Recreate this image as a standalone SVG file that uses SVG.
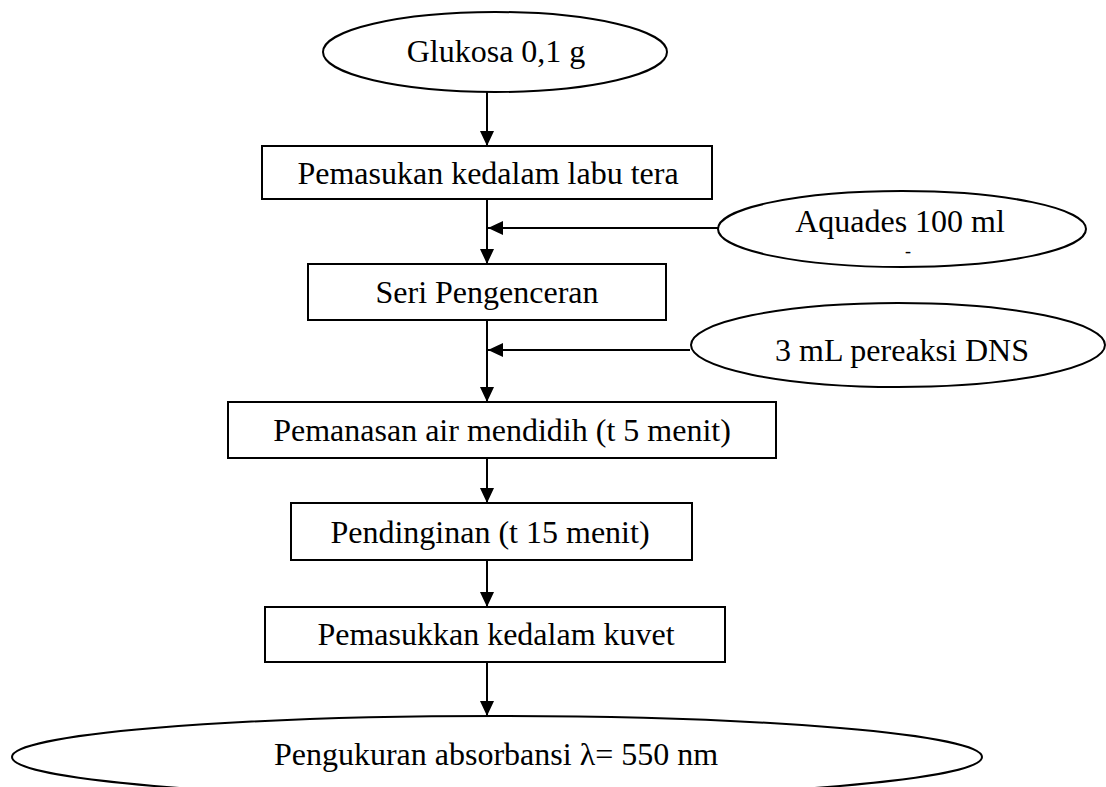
<svg xmlns="http://www.w3.org/2000/svg" width="1106" height="787" viewBox="0 0 1106 787">
  <defs>
    <marker id="arrow" viewBox="0 0 15 14" refX="15" refY="7" markerWidth="15" markerHeight="14" markerUnits="userSpaceOnUse" orient="auto">
      <path d="M0,0 L15,7 L0,14 Z" fill="#000"/>
    </marker>
    <style>
      .shape { fill: #fff; stroke: #000; stroke-width: 2; }
      .label { font-family: "Liberation Serif", "Times New Roman", serif; font-size: 32px; fill: #000; text-anchor: middle; }
      .link { fill: none; stroke: #000; stroke-width: 2; marker-end: url(#arrow); }
    </style>
  </defs>
  <rect width="1106" height="787" fill="#fff"/>

  <!-- flow connectors -->
  <g id="connectors">
    <line class="link" x1="487" y1="92" x2="487" y2="146"/>
    <line class="link" x1="487" y1="199" x2="487" y2="264"/>
    <line class="link" x1="718" y1="228" x2="488" y2="228"/>
    <line class="link" x1="487" y1="320" x2="487" y2="402"/>
    <line class="link" x1="690" y1="350" x2="488" y2="350"/>
    <line class="link" x1="487" y1="458" x2="487" y2="503"/>
    <line class="link" x1="487" y1="560" x2="487" y2="607"/>
    <line class="link" x1="487" y1="662" x2="487" y2="716"/>
  </g>

  <g id="glukosa">
    <ellipse class="shape" cx="495" cy="52" rx="172" ry="40"/>
    <text class="label" x="496" y="62">Glukosa 0,1 g</text>
  </g>

  <g id="pemasukan-labu">
    <rect class="shape" x="262" y="146" width="450" height="53"/>
    <text class="label" x="488" y="184">Pemasukan kedalam labu tera</text>
  </g>

  <g id="aquades">
    <ellipse class="shape" cx="902" cy="229" rx="184" ry="38"/>
    <text class="label" x="900" y="232">Aquades 100 ml</text>
    <text class="label" x="908" y="257" style="font-size:18px">-</text>
  </g>

  <g id="seri-pengenceran">
    <rect class="shape" x="308" y="264" width="358" height="56"/>
    <text class="label" x="487" y="303">Seri Pengenceran</text>
  </g>

  <g id="pereaksi-dns">
    <ellipse class="shape" cx="898" cy="345" rx="207" ry="42"/>
    <text class="label" x="902" y="361">3 mL pereaksi DNS</text>
  </g>

  <g id="pemanasan">
    <rect class="shape" x="228" y="402" width="548" height="56"/>
    <text class="label" x="502" y="441">Pemanasan air mendidih (t 5 menit)</text>
  </g>

  <g id="pendinginan">
    <rect class="shape" x="291" y="503" width="401" height="57"/>
    <text class="label" x="490" y="543">Pendinginan (t 15 menit)</text>
  </g>

  <g id="pemasukan-kuvet">
    <rect class="shape" x="265" y="607" width="460" height="55"/>
    <text class="label" x="496" y="645">Pemasukkan kedalam kuvet</text>
  </g>

  <g id="pengukuran">
    <ellipse class="shape" cx="497" cy="757" rx="485" ry="41"/>
    <text class="label" x="496" y="765">Pengukuran absorbansi λ= 550 nm</text>
  </g>
</svg>
